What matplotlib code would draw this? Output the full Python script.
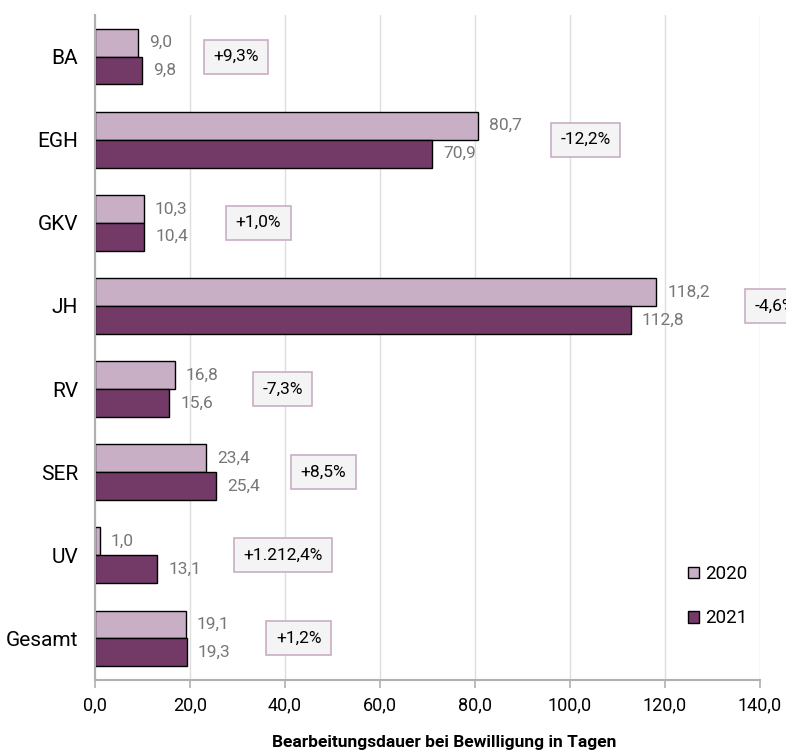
import numpy as np
import matplotlib
matplotlib.use("Agg")
import matplotlib.pyplot as plt
from matplotlib.patches import Patch

plt.rcParams['font.family'] = ['Roboto', 'DejaVu Sans']

# data
categories = ["BA", "EGH", "GKV", "JH", "RV", "SER", "UV", "Gesamt"]
values_2020 = [9.0, 80.7, 10.3, 118.2, 16.8, 23.4, 1.0, 19.1]
values_2021 = [9.8, 70.9, 10.4, 112.8, 15.6, 25.4, 13.1, 19.3]
changes = ["+9,3%", "-12,2%", "+1,0%", "-4,6%", "-7,3%", "+8,5%", "+1.212,4%", "+1,2%"]
series_labels = ["2020", "2021"]
xticks = [0, 20, 40, 60, 80, 100, 120, 140]

# x positions of the change boxes (data units)
box_x = [29.7, 103.3, 34.4, 143.2, 39.5, 48.1, 39.6, 42.9]

col_2020 = "#c8afc5"
col_2021 = "#733a68"


def fmt(v):
    return f"{v:.1f}".replace(".", ",")


fig = plt.figure(figsize=(7.86, 7.52), dpi=100)
ax = fig.add_axes([95 / 786, 72 / 752, 665 / 786, 665 / 752])

y = np.arange(len(categories))
h = 0.335

ax.barh(y - h / 2, values_2020, height=h, color=col_2020, edgecolor="black", linewidth=1, zorder=2)
ax.barh(y + h / 2, values_2021, height=h, color=col_2021, edgecolor="black", linewidth=1, zorder=2)

for i in range(len(categories)):
    ax.annotate(fmt(values_2020[i]), (values_2020[i], y[i] - h / 2), xytext=(8, 0),
                textcoords="offset points", ha="left", va="center", fontsize=12.5, color="#777777")
    ax.annotate(fmt(values_2021[i]), (values_2021[i], y[i] + h / 2), xytext=(8, 0),
                textcoords="offset points", ha="left", va="center", fontsize=12.5, color="#777777")
    ax.text(box_x[i], y[i], changes[i], ha="center", va="center", fontsize=12.5, color="black",
            clip_on=False, zorder=4,
            bbox=dict(boxstyle="square,pad=0.55", facecolor="#f4f4f4", edgecolor="#c9aec4", linewidth=1.2))

ax.set_ylim(len(categories) - 0.5, -0.5)
ax.set_xlim(0, 140)
ax.set_yticks(y)
ax.set_yticklabels(categories, fontsize=15)
ax.set_xticks(xticks)
ax.set_xticklabels([fmt(t) for t in xticks], fontsize=13)
ax.tick_params(axis="y", length=0, pad=12)
ax.tick_params(axis="x", length=6, color="#b0b0b0", width=1.2, pad=6)

ax.grid(axis="x", color="#c8c8c8", linewidth=1, alpha=0.6, zorder=3)
for s in ["top", "right"]:
    ax.spines[s].set_visible(False)
ax.spines["left"].set_color("#b0b0b0")
ax.spines["left"].set_linewidth(1.5)
ax.spines["left"].set_zorder(5)
ax.spines["bottom"].set_color("#b0b0b0")
ax.spines["bottom"].set_linewidth(1.5)

handles = [Patch(facecolor=col_2020, edgecolor="black", linewidth=1),
           Patch(facecolor=col_2021, edgecolor="black", linewidth=1)]
ax.legend(handles, series_labels, loc="center left", bbox_to_anchor=(0.892, 0.126),
          frameon=False, fontsize=13.5, handlelength=0.6, handleheight=0.6,
          handletextpad=0.3, labelspacing=1.4, borderpad=0, borderaxespad=0)

fig.text(444 / 786, 1 - 742 / 752, "Bearbeitungsdauer bei Bewilligung in Tagen",
         ha="center", va="center", fontsize=12.5, fontweight="bold")

fig.savefig("out.png", dpi=100)
